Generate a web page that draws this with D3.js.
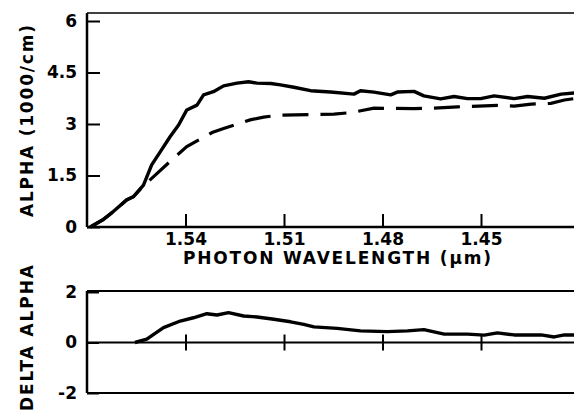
<!DOCTYPE html>
<html>
<head>
<meta charset="utf-8">
<script src="https://cdn.jsdelivr.net/npm/d3@7"></script>
<style>
  body { margin: 0; background: white; }
  svg text { font-family: "DejaVu Sans", sans-serif; font-weight: bold; fill: black; }
</style>
</head>
<body>
<div id="chart"></div>
<script>
// values
var solidWl = [1.5690, 1.5650, 1.5620, 1.5579, 1.5559, 1.5528, 1.5503, 1.5477, 1.5447, 1.5421,
               1.5396, 1.5365, 1.5345, 1.5315, 1.5284, 1.5243, 1.5208, 1.5182, 1.5140, 1.5111,
               1.5070, 1.5019, 1.4958, 1.4887, 1.4867, 1.4826, 1.4775, 1.4755, 1.4704, 1.4674,
               1.4623, 1.4582, 1.4541, 1.4501, 1.4460, 1.4399, 1.4358, 1.4307, 1.4256, 1.4200];
var solidAlpha = [0, 0.22, 0.45, 0.79, 0.88, 1.22, 1.81, 2.19, 2.63, 2.97,
                  3.41, 3.55, 3.85, 3.94, 4.11, 4.19, 4.23, 4.19, 4.18, 4.14,
                  4.07, 3.97, 3.93, 3.87, 3.97, 3.93, 3.85, 3.93, 3.95, 3.82,
                  3.73, 3.80, 3.74, 3.74, 3.82, 3.74, 3.80, 3.75, 3.87, 3.92];

var dashWl = [1.5690, 1.5650, 1.5620, 1.5579, 1.5559, 1.5528, 1.5498, 1.5431, 1.5396, 1.5319,
              1.5284, 1.5203, 1.5162, 1.5111, 1.4948, 1.4897, 1.4826, 1.4704, 1.4653, 1.4571,
              1.4450, 1.4399, 1.4347, 1.4287, 1.4246, 1.4200];
var dashAlpha = [0, 0.22, 0.45, 0.79, 0.88, 1.20, 1.46, 2.05, 2.34, 2.75,
                 2.87, 3.12, 3.20, 3.26, 3.29, 3.33, 3.46, 3.45, 3.46, 3.50,
                 3.54, 3.52, 3.58, 3.60, 3.70, 3.76];

var deltaWl = [1.5554, 1.5518, 1.5467, 1.5416, 1.5376, 1.5335, 1.5304, 1.5269, 1.5223, 1.5182,
               1.5131, 1.5080, 1.5040, 1.5009, 1.4938, 1.4867, 1.4785, 1.4724, 1.4674, 1.4612,
               1.4541, 1.4490, 1.4450, 1.4399, 1.4317, 1.4277, 1.4246, 1.4200];
var deltaAlpha = [0, 0.13, 0.59, 0.85, 0.98, 1.14, 1.09, 1.18, 1.05, 1.01,
                  0.92, 0.82, 0.72, 0.62, 0.56, 0.46, 0.43, 0.46, 0.51, 0.33,
                  0.33, 0.29, 0.38, 0.30, 0.30, 0.22, 0.30, 0.30];

var xTicks = [1.54, 1.51, 1.48, 1.45];
var alphaTicks = [0, 1.5, 3, 4.5, 6];
var alphaTickLabels = ["0", "1.5", "3", "4.5", "6"];
var deltaTicks = [-2, 0, 2];
var deltaTickLabels = ["-2", "0", "2"];

var width = 574, height = 415;

var svg = d3.select("#chart")
  .append("svg")
    .attr("width", width)
    .attr("height", height);

var x = d3.scaleLinear([1.57, 1.42], [87, 579.5]);
var yTop = d3.scaleLinear([0, 6], [227, 21]);
var yBot = d3.scaleLinear([-2, 2], [393, 292]);

// ---- top panel ----
var upper = svg.append("g");

// frame: left axis and top border
upper.append("line")
    .attr("x1", x(1.57)).attr("x2", x(1.57))
    .attr("y1", yTop(6.23)).attr("y2", yTop(0))
    .attr("stroke", "black").attr("stroke-width", 2.5);
upper.append("line")
    .attr("x1", x(1.57)).attr("x2", width)
    .attr("y1", yTop(6.23)).attr("y2", yTop(6.23))
    .attr("stroke", "black").attr("stroke-width", 1.5);

upper.append("g")
    .attr("transform", "translate(0," + yTop(0) + ")")
    .call(d3.axisBottom(x).tickValues(xTicks).tickSize(-13).tickPadding(6)
          .tickFormat(d3.format(".2f")))
    .call(function(g) {
      g.select(".domain").remove();
      g.append("line").attr("x1", x(1.57)).attr("x2", width)
        .attr("stroke", "black").attr("stroke-width", 2.5);
      g.selectAll(".tick line").attr("stroke-width", 2);
      g.selectAll("text").style("font-size", "17px").attr("fill", "black");
    });

upper.append("g")
    .attr("transform", "translate(" + x(1.57) + ",0)")
    .call(d3.axisLeft(yTop).tickValues(alphaTicks).tickSize(-13).tickPadding(10)
          .tickFormat(function(d, i) { return alphaTickLabels[i]; }))
    .call(function(g) {
      g.select(".domain").remove();
      g.selectAll(".tick line").attr("stroke-width", 2);
      g.selectAll("text").style("font-size", "17px").attr("fill", "black");
    });

var lineTop = d3.line()
    .x(function(d) { return x(d[0]); })
    .y(function(d) { return yTop(d[1]); });

upper.append("path")
    .datum(d3.zip(dashWl, dashAlpha))
    .attr("d", lineTop)
    .attr("fill", "none")
    .attr("stroke", "black")
    .attr("stroke-width", 3.2)
    .attr("stroke-dasharray", "26,12");

upper.append("path")
    .datum(d3.zip(solidWl, solidAlpha))
    .attr("d", lineTop)
    .attr("fill", "none")
    .attr("stroke", "black")
    .attr("stroke-width", 3.4)
    .attr("stroke-linejoin", "round");

upper.append("text")
    .attr("x", 337).attr("y", 264)
    .attr("text-anchor", "middle")
    .attr("textLength", 308).attr("lengthAdjust", "spacing")
    .style("font-size", "17px")
    .text("PHOTON WAVELENGTH (\u03bcm)");

upper.append("text")
    .attr("transform", "translate(33,121) rotate(-90)")
    .attr("text-anchor", "middle")
    .attr("textLength", 192).attr("lengthAdjust", "spacing")
    .style("font-size", "17px")
    .text("ALPHA (1000/cm)");

// ---- bottom panel ----
var lower = svg.append("g");

lower.append("line")
    .attr("x1", x(1.57)).attr("x2", x(1.57))
    .attr("y1", yBot(2.04)).attr("y2", yBot(-2))
    .attr("stroke", "black").attr("stroke-width", 2.5);
lower.append("line")
    .attr("x1", x(1.57)).attr("x2", width)
    .attr("y1", yBot(2.04)).attr("y2", yBot(2.04))
    .attr("stroke", "black").attr("stroke-width", 1.8);
lower.append("line")
    .attr("x1", x(1.57)).attr("x2", width)
    .attr("y1", yBot(-2)).attr("y2", yBot(-2))
    .attr("stroke", "black").attr("stroke-width", 1.8);

// zero line with crossing ticks
lower.append("g")
    .attr("transform", "translate(0," + yBot(0) + ")")
    .call(d3.axisBottom(x).tickValues(xTicks).tickSize(8).tickFormat(""))
    .call(function(g) {
      g.select(".domain").remove();
      g.append("line").attr("x1", x(1.57)).attr("x2", width)
        .attr("stroke", "black").attr("stroke-width", 2);
      g.selectAll(".tick line").attr("y1", -8).attr("stroke-width", 2);
    });

lower.append("g")
    .attr("transform", "translate(" + x(1.57) + ",0)")
    .call(d3.axisLeft(yBot).tickValues(deltaTicks).tickSize(-12).tickPadding(10)
          .tickFormat(function(d, i) { return deltaTickLabels[i]; }))
    .call(function(g) {
      g.select(".domain").remove();
      g.selectAll(".tick line").attr("stroke-width", 2);
      g.selectAll("text").style("font-size", "17px").attr("fill", "black");
    });

var lineBot = d3.line()
    .x(function(d) { return x(d[0]); })
    .y(function(d) { return yBot(d[1]); });

lower.append("path")
    .datum(d3.zip(deltaWl, deltaAlpha))
    .attr("d", lineBot)
    .attr("fill", "none")
    .attr("stroke", "black")
    .attr("stroke-width", 3.4)
    .attr("stroke-linejoin", "round");

lower.append("text")
    .attr("transform", "translate(33,338) rotate(-90)")
    .attr("text-anchor", "middle")
    .attr("textLength", 146).attr("lengthAdjust", "spacing")
    .style("font-size", "17px")
    .text("DELTA ALPHA");
</script>
</body>
</html>
